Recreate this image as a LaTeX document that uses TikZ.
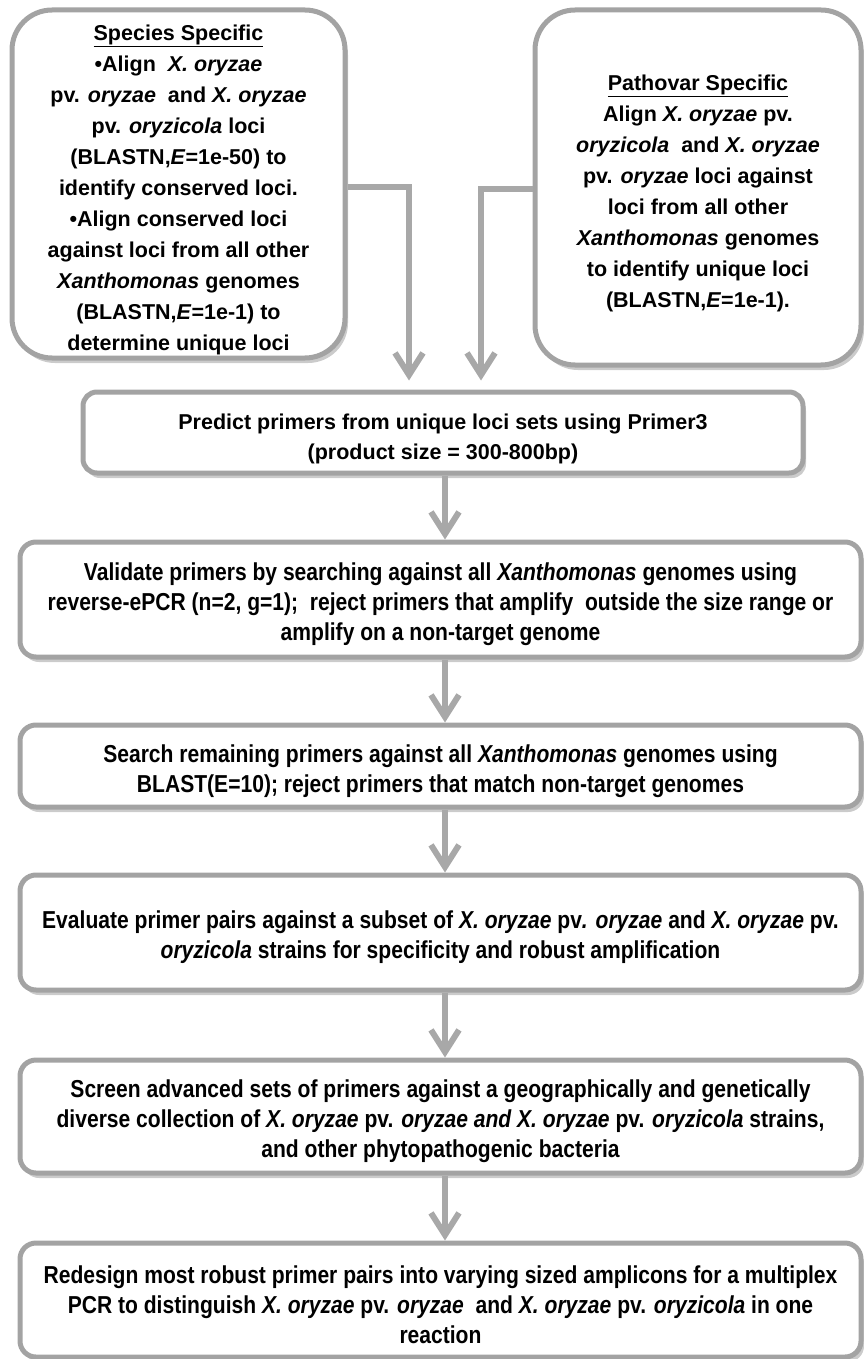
\documentclass[tikz,border=0pt]{standalone}
\usepackage{fontspec}
\setmainfont{Liberation Sans}
\newfontfamily\narrowfont[FakeStretch=0.86]{Liberation Sans}
\usetikzlibrary{arrows.meta,shadows}
\definecolor{boxgray}{RGB}{163,163,163}
\definecolor{arrgray}{RGB}{168,168,168}
\newcommand\tfix[1]{\rule{0pt}{#1}}
\tikzset{
  x=1pt,y=-1pt,
  boxbase/.style={draw=boxgray, line width=5pt, fill=white, align=center, inner sep=0pt,
    drop shadow={shadow xshift=3pt, shadow yshift=-5pt, fill=black!45, opacity=0.45}},
  topbox/.style={boxbase, rounded corners=40pt, font=\fontsize{21.5}{31}\selectfont\bfseries},
  midbox/.style={boxbase, rounded corners=14pt, font=\fontsize{21.5}{30}\selectfont\bfseries},
  lowbox/.style={boxbase, rounded corners=16pt, minimum width=841pt, font=\narrowfont\fontsize{24.5}{30}\selectfont\bfseries},
  arr/.style={draw=arrgray, line width=6pt, -{Straight Barb[length=22pt,width=28pt]}},
}
\begin{document}
\begin{tikzpicture}
\useasboundingbox (0,0) rectangle (863,1359);
\node[topbox, minimum width=333pt, minimum height=348pt] (L) at (178.5,184) {%
\tfix{28pt}\underline{Species Specific}\\
•Align\ \ \textit{X. oryzae}\\
pv. \textit{oryzae}\ \ and \textit{X. oryzae}\\
pv. \textit{oryzicola} loci\\
(BLASTN,\textit{E}=1e-50) to\\
identify conserved loci.\\
•Align conserved loci\\
against loci from all other\\
\textit{Xanthomonas} genomes\\
(BLASTN,\textit{E}=1e-1) to\\
determine unique loci};
\node[topbox, minimum width=326pt, minimum height=355pt] (R) at (698,187.5) {%
\tfix{28pt}\underline{Pathovar Specific}\\
Align \textit{X. oryzae} pv.\\
\textit{oryzicola}\ \ and \textit{X. oryzae}\\
pv. \textit{oryzae} loci against\\
loci from all other\\
\textit{Xanthomonas} genomes\\
to identify unique loci\\
(BLASTN,\textit{E}=1e-1).};
\node[midbox, minimum width=720pt, minimum height=81pt] (P) at (443,432.5) {%
\tfix{28pt}Predict primers from unique loci sets using Primer3\\
(product size = 300-800bp)};
\node[lowbox, minimum height=115pt] (V) at (440.5,599.5) {%
\tfix{28pt}Validate primers by searching against all \textit{Xanthomonas} genomes using\\
reverse-ePCR (n=2, g=1);\ \ reject primers that amplify\ \ outside the size range or\\
amplify on a non-target genome};
\node[lowbox, minimum height=82pt] (S) at (440.5,766) {%
\tfix{28pt}Search remaining primers against all \textit{Xanthomonas} genomes using\\
BLAST(E=10); reject primers that match non-target genomes};
\node[lowbox, minimum height=115pt] (E) at (440.5,932.5) {%
\tfix{28pt}Evaluate primer pairs against a subset of \textit{X. oryzae} pv\textit{.} \textit{oryzae} and \textit{X. oryzae} pv.\\
\textit{oryzicola} strains for specificity and robust amplification};
\node[lowbox, minimum height=113pt] (Sc) at (440.5,1116.5) {%
\tfix{28pt}Screen advanced sets of primers against a geographically and genetically\\
diverse collection of \textit{X. oryzae} pv. \textit{oryzae and X. oryzae} pv. \textit{oryzicola} strains,\\
and other phytopathogenic bacteria};
\node[lowbox, minimum height=114pt] (Rd) at (440.5,1300) {%
\tfix{28pt}Redesign most robust primer pairs into varying sized amplicons for a multiplex\\
PCR to distinguish \textit{X. oryzae} pv. \textit{oryzae}\ \ and \textit{X. oryzae} pv. \textit{oryzicola} in one\\
reaction};
\coordinate (lx) at (409,0);
\coordinate (rx) at (481,0);
\coordinate (cx) at (445,0);
\draw[arr, shorten >=9pt] ([yshift=-3pt]L.east) -| (lx |- P.north);
\draw[arr, shorten >=9pt] ([yshift=-2pt]R.west) -| (rx |- P.north);
\draw[arr] (cx |- P.south) -- (cx |- V.north);
\draw[arr] (cx |- V.south) -- (cx |- S.north);
\draw[arr] (cx |- S.south) -- (cx |- E.north);
\draw[arr] (cx |- E.south) -- (cx |- Sc.north);
\draw[arr] (cx |- Sc.south) -- (cx |- Rd.north);
\end{tikzpicture}
\end{document}
